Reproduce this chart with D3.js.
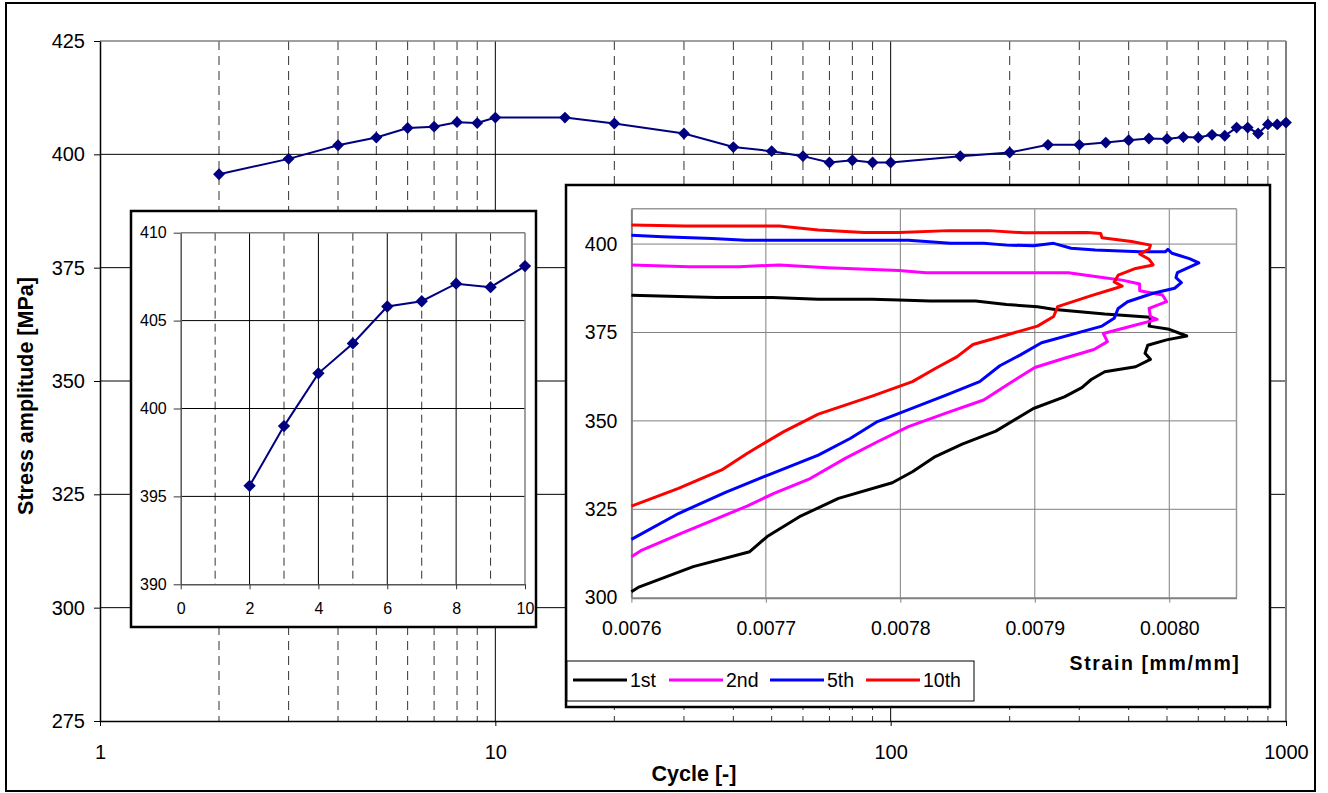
<!DOCTYPE html>
<html>
<head>
<meta charset="utf-8">
<script src="https://cdn.jsdelivr.net/npm/d3@7"></script>
<style>
  html, body { margin: 0; padding: 0; background: #fff; }
  svg { display: block; font-family: "Liberation Sans", Arial, sans-serif; }
</style>
</head>
<body>
<svg id="chart" width="1328" height="793"></svg>
<script>
// ---- Cyclic stress amplitude vs. cycle number ----
const cycles = [2, 3, 4, 5, 6, 7, 8, 9, 10, 15, 20, 30, 40, 50, 60, 70, 80, 90, 100,
  150, 200, 250, 300, 350, 400, 450, 500, 550, 600, 650, 700, 750, 800, 850, 900, 950, 1000];
const stressAmp = [395.6, 399.0, 402.0, 403.7, 405.8, 406.1, 407.1, 406.9, 408.1, 408.1,
  406.8, 404.6, 401.6, 400.7, 399.6, 398.2, 398.7, 398.2, 398.2, 399.6, 400.4, 402.1,
  402.1, 402.6, 403.1, 403.5, 403.4, 403.8, 403.7, 404.3, 404.1, 405.9, 405.9, 404.6,
  406.6, 406.6, 407.0];

const mainYTicks = [275, 300, 325, 350, 375, 400, 425];
const mainXTicks = [1, 10, 100, 1000];
const insetYTicks = [390, 395, 400, 405, 410];
const insetXTicks = [0, 2, 4, 6, 8, 10];

// ---- Hysteresis branches (strain, stress) for selected cycles ----
const strain1st = [0.007600, 0.007605, 0.007646, 0.007688, 0.007701, 0.007725, 0.007754, 0.007794, 0.007809, 0.007826, 0.007846, 0.007871, 0.007899, 0.007922, 0.007935, 0.007942, 0.007952, 0.007975, 0.007986, 0.007982, 0.007984, 0.007998, 0.008013, 0.008000, 0.007985, 0.007986, 0.007952, 0.007915, 0.007902, 0.007879, 0.007856, 0.007822, 0.007799, 0.007779, 0.007739, 0.007705, 0.007663, 0.007600];
const stress1st = [301.7, 302.9, 308.8, 313.0, 317.3, 322.9, 328.1, 332.5, 335.6, 339.9, 343.4, 347.1, 353.5, 356.8, 359.4, 361.7, 363.9, 365.3, 367.4, 369.1, 371.4, 372.9, 374.0, 375.9, 376.8, 379.3, 380.2, 381.5, 382.3, 382.9, 383.9, 383.9, 384.2, 384.4, 384.4, 384.9, 384.9, 385.5];

const strain2nd = [0.007600, 0.007607, 0.007637, 0.007686, 0.007706, 0.007733, 0.007759, 0.007783, 0.007806, 0.007836, 0.007862, 0.007879, 0.007900, 0.007922, 0.007944, 0.007954, 0.007951, 0.007975, 0.007991, 0.007986, 0.007985, 0.007998, 0.007995, 0.007978, 0.007978, 0.007965, 0.007949, 0.007925, 0.007899, 0.007866, 0.007819, 0.007799, 0.007746, 0.007710, 0.007680, 0.007643, 0.007600];
const stress2nd = [311.6, 313.3, 318.2, 325.9, 329.5, 333.7, 339.4, 344.1, 348.4, 352.5, 355.9, 360.1, 365.1, 367.7, 370.2, 372.4, 374.7, 377.1, 378.7, 379.5, 381.8, 383.7, 385.6, 386.8, 388.7, 389.8, 390.6, 391.9, 391.9, 391.9, 391.9, 392.5, 393.3, 394.1, 393.6, 393.6, 394.1];

const strain5th = [0.007600, 0.007635, 0.007670, 0.007703, 0.007739, 0.007763, 0.007783, 0.007799, 0.007834, 0.007859, 0.007874, 0.007889, 0.007905, 0.007950, 0.007959, 0.007962, 0.007969, 0.007988, 0.008004, 0.008009, 0.008005, 0.008006, 0.008022, 0.008015, 0.008002, 0.007999, 0.007997, 0.007978, 0.007945, 0.007927, 0.007914, 0.007899, 0.007879, 0.007862, 0.007837, 0.007819, 0.007806, 0.007746, 0.007685, 0.007660, 0.007623, 0.007600];
const stress5th = [316.5, 323.8, 329.8, 334.9, 340.3, 345.1, 349.8, 352.1, 357.3, 361.1, 365.6, 368.6, 372.1, 376.8, 379.0, 381.8, 383.7, 386.1, 387.5, 389.1, 390.5, 391.9, 394.7, 395.9, 397.4, 398.5, 397.8, 397.8, 398.3, 398.8, 400.2, 399.5, 399.7, 400.2, 400.2, 400.7, 401.1, 401.1, 401.1, 401.6, 402.1, 402.5];

const strain10th = [0.007600, 0.007635, 0.007668, 0.007686, 0.007713, 0.007739, 0.007779, 0.007809, 0.007826, 0.007842, 0.007854, 0.007879, 0.007902, 0.007914, 0.007917, 0.007942, 0.007960, 0.007965, 0.007959, 0.007962, 0.007975, 0.007988, 0.007985, 0.007978, 0.007985, 0.007986, 0.007972, 0.007950, 0.007949, 0.007939, 0.007892, 0.007866, 0.007836, 0.007799, 0.007773, 0.007739, 0.007710, 0.007640, 0.007600];
const stress10th = [325.9, 330.9, 336.3, 340.8, 346.9, 351.9, 357.0, 361.1, 364.8, 368.1, 371.6, 374.3, 376.8, 379.5, 382.3, 385.4, 387.5, 388.1, 389.3, 391.2, 393.1, 394.1, 395.7, 397.2, 398.5, 399.7, 400.7, 401.8, 403.0, 403.3, 403.2, 403.8, 403.8, 403.3, 403.3, 404.0, 405.1, 405.1, 405.4];

const loopNames = ["1st", "2nd", "5th", "10th"];
const loopColors = ["#000000", "#ff00ff", "#0000ff", "#ff0000"];
const strainTicks = [0.0076, 0.0077, 0.0078, 0.0079, 0.0080];
const loopYTicks = [300, 325, 350, 375, 400];

const svg = d3.select("#chart");
const NAVY = "#000080";
const FONT = "'Liberation Sans', Arial, sans-serif";

// Outer chart frame
svg.append("rect").attr("x", 6).attr("y", 3).attr("width", 1309).attr("height", 788)
  .attr("fill", "#fff").attr("stroke", "#000").attr("stroke-width", 2);

// ================= Main chart =================
const x = d3.scaleLog().domain([1, 1000]).range([100, 1286]);
const y = d3.scaleLinear().domain([275, 425]).range([721, 41]);
const main = svg.append("g");

// minor log grid (dashed)
const minorX = [];
[1, 10, 100].forEach(d => { for (let k = 2; k <= 9; k++) minorX.push(d * k); });
main.append("g").selectAll("line").data(minorX).join("line")
  .attr("x1", d => x(d)).attr("x2", d => x(d))
  .attr("y1", y(425)).attr("y2", y(275))
  .attr("stroke", "#333").attr("stroke-width", 1).attr("stroke-dasharray", "9,6");

// major vertical grid
main.append("g").selectAll("line").data([10, 100]).join("line")
  .attr("x1", d => x(d)).attr("x2", d => x(d))
  .attr("y1", y(425)).attr("y2", y(275))
  .attr("stroke", "#000").attr("stroke-width", 1);

// horizontal grid
main.append("g").selectAll("line").data(mainYTicks.filter(d => d > 275 && d < 425)).join("line")
  .attr("x1", x(1)).attr("x2", x(1000))
  .attr("y1", d => y(d)).attr("y2", d => y(d))
  .attr("stroke", "#000").attr("stroke-width", 1);

// plot area border (top / right)
main.append("line").attr("x1", x(1)).attr("x2", x(1000)).attr("y1", y(425)).attr("y2", y(425))
  .attr("stroke", "#808080").attr("stroke-width", 1.5);
main.append("line").attr("x1", x(1000)).attr("x2", x(1000)).attr("y1", y(425)).attr("y2", y(275))
  .attr("stroke", "#808080").attr("stroke-width", 2);

// axes
const yAxis = d3.axisLeft(y).tickValues(mainYTicks).tickSize(6).tickPadding(9).tickSizeOuter(0);
const gy = main.append("g").attr("transform", `translate(${x(1)},0)`).call(yAxis);
const xAxis = d3.axisBottom(x).tickValues(mainXTicks).tickFormat(d3.format("d")).tickSize(5).tickPadding(19).tickSizeOuter(0);
const gx = main.append("g").attr("transform", `translate(0,${y(275)})`).call(xAxis);
[gx, gy].forEach(g => {
  g.select(".domain").attr("stroke", "#000").attr("stroke-width", 1.5);
  g.selectAll(".tick line").attr("stroke", "#000");
  g.selectAll("text").attr("font-size", 20).attr("fill", "#000").attr("font-family", FONT);
});

// series
main.append("path").datum(cycles.map((c, i) => [c, stressAmp[i]]))
  .attr("d", d3.line().x(d => x(d[0])).y(d => y(d[1])))
  .attr("fill", "none").attr("stroke", NAVY).attr("stroke-width", 2);
const diamond = d3.symbol().type(d3.symbolSquare).size(70);
main.append("g").selectAll("path").data(cycles.map((c, i) => [c, stressAmp[i]])).join("path")
  .attr("d", diamond)
  .attr("transform", d => `translate(${x(d[0])},${y(d[1])}) rotate(45)`)
  .attr("fill", NAVY);

// axis titles
svg.append("text").attr("transform", "translate(33,396) rotate(-90)")
  .attr("text-anchor", "middle").attr("font-weight", "bold").attr("font-size", 21.5)
  .text("Stress amplitude [MPa]");
svg.append("text").attr("x", 694).attr("y", 781)
  .attr("text-anchor", "middle").attr("font-weight", "bold").attr("font-size", 21.5)
  .text("Cycle [-]");

// ================= Inset: first ten cycles =================
const ins = svg.append("g");
ins.append("rect").attr("x", 131).attr("y", 211).attr("width", 405).attr("height", 416)
  .attr("fill", "#fff").attr("stroke", "#000").attr("stroke-width", 2.5);
const ix = d3.scaleLinear().domain([0, 10]).range([180.7, 525]);
const iy = d3.scaleLinear().domain([390, 410]).range([584.3, 232.7]);

ins.append("g").selectAll("line").data([1, 3, 5, 7, 9]).join("line")
  .attr("x1", d => ix(d)).attr("x2", d => ix(d)).attr("y1", iy(410)).attr("y2", iy(390))
  .attr("stroke", "#333").attr("stroke-dasharray", "8,5");
ins.append("g").selectAll("line").data([2, 4, 6, 8]).join("line")
  .attr("x1", d => ix(d)).attr("x2", d => ix(d)).attr("y1", iy(410)).attr("y2", iy(390))
  .attr("stroke", "#000");
ins.append("g").selectAll("line").data([395, 400, 405]).join("line")
  .attr("x1", ix(0)).attr("x2", ix(10)).attr("y1", d => iy(d)).attr("y2", d => iy(d))
  .attr("stroke", "#000");
ins.append("line").attr("x1", ix(0)).attr("x2", ix(10)).attr("y1", iy(410)).attr("y2", iy(410))
  .attr("stroke", "#808080").attr("stroke-width", 1.5);
ins.append("line").attr("x1", ix(10)).attr("x2", ix(10)).attr("y1", iy(410)).attr("y2", iy(390))
  .attr("stroke", "#808080").attr("stroke-width", 1.5);

const igy = ins.append("g").attr("transform", `translate(${ix(0)},0)`)
  .call(d3.axisLeft(iy).tickValues(insetYTicks).tickSize(7).tickPadding(7).tickSizeOuter(0));
const igx = ins.append("g").attr("transform", `translate(0,${iy(390)})`)
  .call(d3.axisBottom(ix).tickValues(insetXTicks).tickSize(5).tickPadding(13).tickSizeOuter(0));
[igx, igy].forEach(g => {
  g.select(".domain").attr("stroke", "#555").attr("stroke-width", 1.5);
  g.selectAll(".tick line").attr("stroke", "#333");
  g.selectAll("text").attr("font-size", 16).attr("fill", "#000").attr("font-family", FONT);
});

const firstTen = cycles.map((c, i) => [c, stressAmp[i]]).filter(d => d[0] <= 10);
ins.append("path").datum(firstTen)
  .attr("d", d3.line().x(d => ix(d[0])).y(d => iy(d[1])))
  .attr("fill", "none").attr("stroke", NAVY).attr("stroke-width", 2);
ins.append("g").selectAll("path").data(firstTen).join("path")
  .attr("d", d3.symbol().type(d3.symbolSquare).size(76))
  .attr("transform", d => `translate(${ix(d[0])},${iy(d[1])}) rotate(45)`)
  .attr("fill", NAVY);

// ================= Inset: hysteresis loops =================
const hl = svg.append("g");
hl.append("rect").attr("x", 566).attr("y", 185).attr("width", 704).attr("height", 522)
  .attr("fill", "#fff").attr("stroke", "#000").attr("stroke-width", 2.5);
const hx = d3.scaleLinear().domain([0.0076, 0.00805]).range([631.4, 1236.5]);
const hy = d3.scaleLinear().domain([300, 410]).range([597.7, 208.7]);

hl.append("g").selectAll("line").data(strainTicks.slice(1)).join("line")
  .attr("x1", d => hx(d)).attr("x2", d => hx(d)).attr("y1", hy(410)).attr("y2", hy(300))
  .attr("stroke", "#808080");
hl.append("g").selectAll("line").data(loopYTicks.slice(1)).join("line")
  .attr("x1", hx(0.0076)).attr("x2", hx(0.00805)).attr("y1", d => hy(d)).attr("y2", d => hy(d))
  .attr("stroke", "#808080");
hl.append("line").attr("x1", hx(0.0076)).attr("x2", hx(0.00805)).attr("y1", hy(410)).attr("y2", hy(410))
  .attr("stroke", "#999").attr("stroke-width", 1.5);
hl.append("line").attr("x1", hx(0.00805)).attr("x2", hx(0.00805)).attr("y1", hy(410)).attr("y2", hy(300))
  .attr("stroke", "#999").attr("stroke-width", 1.5);

const hgy = hl.append("g").attr("transform", `translate(${hx(0.0076)},0)`)
  .call(d3.axisLeft(hy).tickValues(loopYTicks).tickSize(0).tickPadding(14).tickSizeOuter(0));
const hgx = hl.append("g").attr("transform", `translate(0,${hy(300)})`)
  .call(d3.axisBottom(hx).tickValues(strainTicks).tickFormat(d3.format(".4f")).tickSize(5).tickPadding(18).tickSizeOuter(0));
[hgx, hgy].forEach(g => {
  g.select(".domain").attr("stroke", "#808080").attr("stroke-width", 2);
  g.selectAll(".tick line").attr("stroke", "#808080");
  g.selectAll("text").attr("font-size", 19.5).attr("fill", "#000").attr("font-family", FONT);
});

const loops = [
  [strain1st, stress1st],
  [strain2nd, stress2nd],
  [strain5th, stress5th],
  [strain10th, stress10th]
];
const loopLine = d3.line().x(d => hx(d[0])).y(d => hy(d[1]));
loops.forEach(([sx, sy], k) => {
  hl.append("path").datum(sx.map((v, i) => [v, sy[i]]))
    .attr("d", loopLine).attr("fill", "none")
    .attr("stroke", loopColors[k]).attr("stroke-width", 3).attr("stroke-linejoin", "round");
});

hl.append("text").attr("x", 1155).attr("y", 670).attr("text-anchor", "middle")
  .attr("font-weight", "bold").attr("font-size", 19.5).attr("letter-spacing", 1.6)
  .text("Strain [mm/mm]");

// legend
const lg = hl.append("g");
lg.append("rect").attr("x", 567).attr("y", 661).attr("width", 407).attr("height", 40)
  .attr("fill", "#fff").attr("stroke", "#000").attr("stroke-width", 1);
const legendX = [573, 669, 770, 866];
loopNames.forEach((name, k) => {
  lg.append("line").attr("x1", legendX[k]).attr("x2", legendX[k] + 54)
    .attr("y1", 680).attr("y2", 680).attr("stroke", loopColors[k]).attr("stroke-width", 3);
  lg.append("text").attr("x", legendX[k] + 57).attr("y", 687)
    .attr("font-size", 19.5).text(name);
});
</script>
</body>
</html>
